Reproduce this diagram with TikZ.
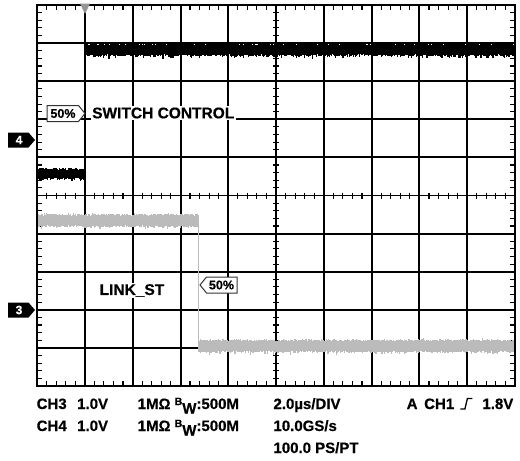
\documentclass[tikz,border=0pt]{standalone}
\usepackage{fontspec}
\setmainfont{Liberation Sans}[BoldFeatures={FakeBold=0.5}]
\definecolor{tracegray}{RGB}{187,187,187}
\definecolor{triggray}{RGB}{150,150,150}
\begin{document}
\begin{tikzpicture}[x=1pt,y=-1pt,
  frame/.style={line width=2pt},
  gridl/.style={line width=1.6pt},
  tickl/.style={line width=1.1pt},
  lbl/.style={font=\bfseries\fontsize{15.5}{18}\selectfont, fill=white, inner sep=1.5pt},
  info/.style={font=\bfseries\fontsize{15}{18}\selectfont, anchor=base west, inner sep=0pt},
  pctbox/.style={draw=black!80, line width=1pt, fill=white},
  pcttxt/.style={font=\bfseries\fontsize{12.5}{14}\selectfont, inner sep=0pt},
  chmtxt/.style={text=white, font=\bfseries\fontsize{12}{14}\selectfont, inner sep=0pt},
  trk/.style={line width=1.2pt, black},
  trg/.style={line width=1.2pt, tracegray}
]
\pgfmathsetseed{7}
\useasboundingbox (0,0) rectangle (520,461);
\fill[white] (0,0) rectangle (520,461);
% grid
\foreach \xx in {85,133,181,228,276,324,372,419,467} \draw[gridl] (\xx,5) -- (\xx,386);
\foreach \yy in {43,81,119,157,195.5,234,272,310,348} \draw[gridl] (37,\yy) -- (515,\yy);
% ticks
\foreach \k in {1,...,49} {
  \draw[tickl] ({37+9.56*\k},5) -- ++(0,5);
  \draw[tickl] ({37+9.56*\k},386) -- ++(0,-5);
  \draw[tickl] ({37+9.56*\k},192.5) -- ++(0,6);
  \draw[tickl] (37,{5+7.62*\k}) -- ++(5,0);
  \draw[tickl] (515,{5+7.62*\k}) -- ++(-5,0);
  \draw[tickl] (273,{5+7.62*\k}) -- ++(6,0);
}
% CH4 trace (black)
\fill[black] (37,170) rectangle (85,177.5);
\draw[trk] foreach \x in {37,37.6,...,85} {(\x,{170-2*rnd}) -- (\x,{177+2.5*rnd+2.5*pow(rnd,6)})};
\draw[line width=1.4pt] (85,176) -- (85,46);
\fill[black] (85,45) rectangle (515,54);
\draw[trk] foreach \x in {85.5,86.1,...,515} {(\x,{45-1.5*rnd}) -- (\x,{54+2*rnd+3*pow(rnd,6)})};
% CH3 trace (gray)
\fill[tracegray] (37,216) rectangle (198.5,225);
\draw[trg] foreach \x in {37,37.6,...,198.5} {(\x,{216-2*rnd-1.5*pow(rnd,8)}) -- (\x,{225+2*rnd+2.5*pow(rnd,6)})};
\draw[trg] (198.5,220) -- (198.5,346);
\fill[tracegray] (199,341.5) rectangle (515,350.5);
\draw[trg] foreach \x in {199,199.6,...,515} {(\x,{341.5-2*rnd-1.5*pow(rnd,8)}) -- (\x,{350.5+2*rnd+2.5*pow(rnd,6)})};
% frame
\draw[frame] (37,5) rectangle (515,386);
% trigger marker
\fill[triggray] (80,3.5) -- (90,3.5) -- (85,14) -- cycle;
% labels
\node[lbl, anchor=west] (sw) at (90.5,113) {SWITCH CONTROL};
\node[lbl] (lk) at (132,290.5) {LINK\_ST};
\draw[pctbox] (47,105.5) -- (78.5,105.5) -- (85,113.5) -- (78.5,121.5) -- (47,121.5) -- cycle;
\node[pcttxt] (p1) at (63,113.5) {50\%};
\draw[pctbox] (200,285) -- (206.5,277) -- (237,277) -- (237,293) -- (206.5,293) -- cycle;
\node[pcttxt] (p2) at (221.5,285) {50\%};
% channel markers
\fill (8,132.5) -- (28.5,132.5) -- (35,140) -- (28.5,147.5) -- (8,147.5) -- cycle;
\node[chmtxt] (c4) at (19,140) {4};
\fill (8,302.5) -- (28.5,302.5) -- (35,310) -- (28.5,317.5) -- (8,317.5) -- cycle;
\node[chmtxt] (c3) at (19,310) {3};
% readout
\node[info] (r1a) at (36.5,409) {CH3};
\node[info] (r1b) at (77,409) {1.0V};
\node[info] (r1c) at (137.5,409) {1MΩ \raisebox{4pt}{\fontsize{10.5}{12}\selectfont B}\raisebox{-4.5pt}{W}:500M};
\node[info] (r1d) at (273.3,409) {2.0µs/DIV};
\node[info] (r1e) at (406.5,409) {A};
\node[info] (r1f) at (424,409) {CH1};
\draw[line width=1.3pt] (r1f.base east) ++(6,0) -- ++(4.5,0) -- ++(2.5,-10.5) -- ++(5,0);
\node[info, anchor=base east] (r1g) at (513.5,409) {1.8V};
\node[info] (r2a) at (36.5,431) {CH4};
\node[info] (r2b) at (77,431) {1.0V};
\node[info] (r2c) at (137.5,431) {1MΩ \raisebox{4pt}{\fontsize{10.5}{12}\selectfont B}\raisebox{-4.5pt}{W}:500M};
\node[info] (r2d) at (273.3,431) {10.0GS/s};
\node[info] (r3d) at (273.3,453) {100.0 PS/PT};
\end{tikzpicture}
\end{document}
